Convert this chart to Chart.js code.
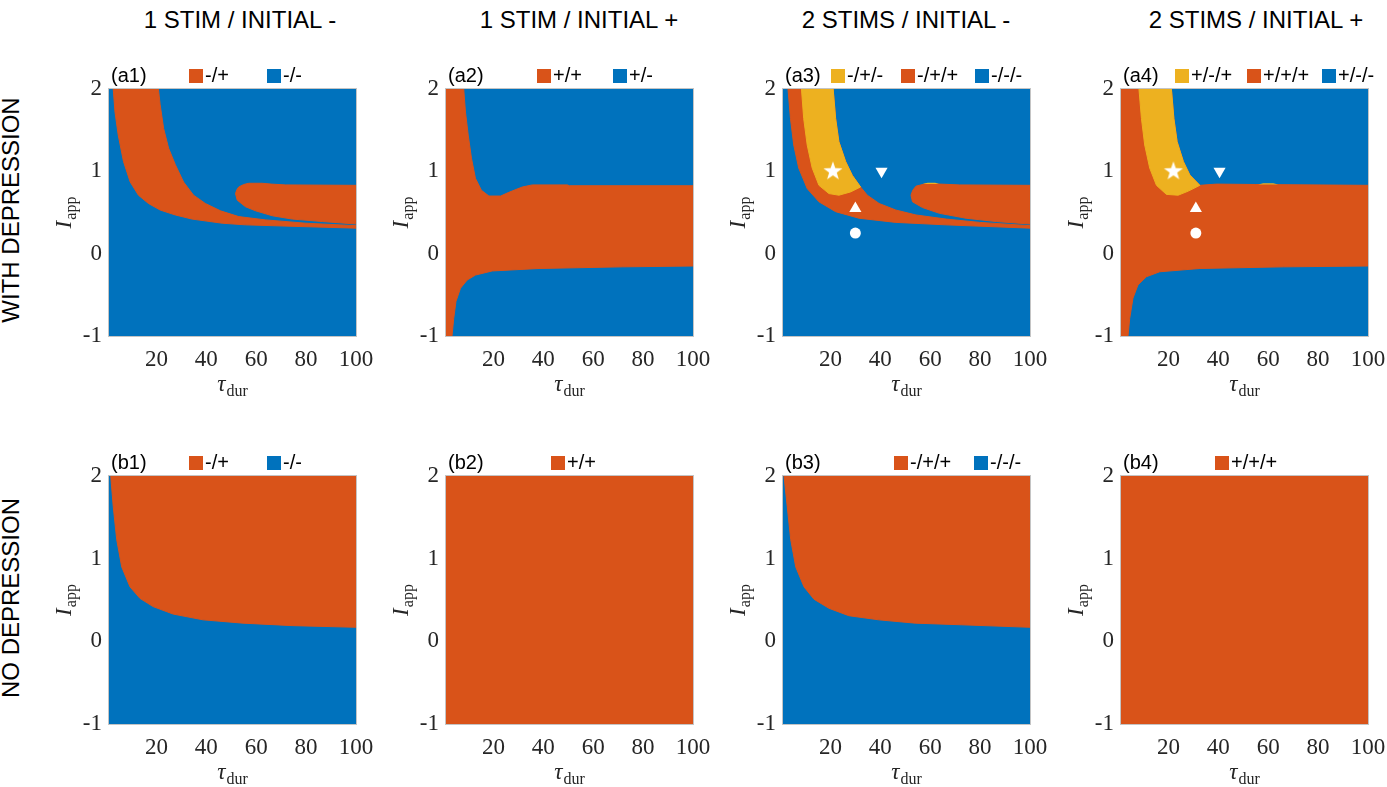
<!DOCTYPE html>
<html>
<head>
<meta charset="utf-8">
<title>Outcome maps</title>
<script src="https://cdn.jsdelivr.net/npm/chart.js@4.4.1/dist/chart.umd.min.js"></script>
<style>
  html, body { margin: 0; padding: 0; background: #ffffff; }
  body { position: relative; width: 1387px; height: 787px; overflow: hidden; font-family: "Liberation Sans", Arial, Helvetica, sans-serif; color: #000; }
  canvas.panel { position: absolute; }
  .colTitle { position: absolute; top: 20px; font-size: 24px; line-height: 24px; white-space: nowrap; transform: translate(-50%, -50%); }
  .rowTitle { position: absolute; left: 11px; font-size: 24px; line-height: 24px; white-space: nowrap; transform: translate(-50%, -50%) rotate(-90deg); }
</style>
</head>
<body>
<script>
// ---------------- data (tau_dur, I_app) ----------------
const xTicks = [20, 40, 60, 80, 100];
const yTicks = [-1, 0, 1, 2];
const tauRange = [1, 100];
const iRange = [-1, 2];

const columnTitles = ['1 STIM / INITIAL -', '1 STIM / INITIAL +', '2 STIMS / INITIAL -', '2 STIMS / INITIAL +'];
const rowTitles = ['WITH DEPRESSION', 'NO DEPRESSION'];
const panelTags = ['(a1)', '(a2)', '(a3)', '(a4)', '(b1)', '(b2)', '(b3)', '(b4)'];

const legendA1 = ['-/+', '-/-'];
const legendA2 = ['+/+', '+/-'];
const legendA3 = ['-/+/-', '-/+/+', '-/-/-'];
const legendA4 = ['+/-/+', '+/+/+', '+/-/-'];
const legendB1 = ['-/+', '-/-'];
const legendB2 = ['+/+'];
const legendB3 = ['-/+/+', '-/-/-'];
const legendB4 = ['+/+/+'];

// (a1) boundaries
const a1BandLeft = [[2.7,2],[3.4,1.72],[4.7,1.44],[6.8,1.12],[9.5,0.87],[12.8,0.71],[16.8,0.61],[21.5,0.53],[27.6,0.47],[34.3,0.42],[46.4,0.37],[55.7,0.35],[77.2,0.33],[100,0.31]];
const a1BandRight = [[20.8,2],[21.5,1.81],[22.9,1.52],[24.9,1.28],[27.6,1.08],[30.9,0.87],[34.9,0.71],[39.6,0.61],[45.7,0.52],[53,0.45],[63.8,0.41],[79.9,0.37],[100,0.34]];
const a1LobeUpper = [[51.7,0.73],[52.3,0.78],[53,0.81],[55,0.84],[57,0.855],[62.4,0.855],[66,0.845],[71.8,0.835],[100,0.83]];
const a1LobeLower = [[51.7,0.73],[52.4,0.65],[55.7,0.57],[59.8,0.52],[66.5,0.46],[74.5,0.42],[86.6,0.39],[100,0.36]];

// (a2) boundaries
const a2Upper = [[8.1,2],[8.8,1.72],[9.9,1.44],[11.2,1.16],[12.8,0.915],[15.2,0.77],[18.2,0.70],[22.9,0.70],[26.2,0.745],[31.6,0.81],[35.6,0.835],[49.7,0.835],[50.4,0.825],[100,0.825]];
const a2Lower = [[3.4,-1],[4.1,-0.785],[5.0,-0.58],[6.8,-0.42],[9.5,-0.32],[12.8,-0.26],[19.5,-0.21],[38.3,-0.18],[71.8,-0.16],[100,-0.15]];

// (a3) boundaries
const a3BandLeft = [[3,2],[4,1.64],[5.3,1.32],[7.3,1.04],[10.7,0.79],[15.4,0.63],[22.1,0.51],[31.5,0.43],[46.2,0.38],[66.3,0.35],[100,0.31]];
const a3YellowRight = [[21.1,2],[22.1,1.64],[23.4,1.36],[26.1,1.12],[28.8,0.95],[32.1,0.81]];
const a3BandTop = [[34.8,0.71],[39.5,0.61],[46.2,0.53],[54.3,0.47],[66.4,0.42],[79.8,0.38],[100,0.34]];
const a3YellowLeft = [[8.4,2],[9.3,1.64],[10.7,1.32],[12.7,1.04],[15.4,0.83],[19.4,0.73],[23.4,0.71],[28.1,0.75],[32.1,0.81]];
const a3LobeUpper = [[52.3,0.71],[53,0.77],[54.3,0.82],[58.3,0.85],[64,0.845],[71.7,0.835],[100,0.83]];
const a3LobeLower = [[52.3,0.71],[52.9,0.63],[56.9,0.56],[63.7,0.49],[74.4,0.43],[86.5,0.39],[100,0.36]];
const a3Sliver = [[57,0.846],[59,0.862],[62,0.862],[63.5,0.846]];
const a3Markers = [[21,1],[40.5,1],[30,0.55],[30,0.25]];

// (a4) boundaries
const a4YellowLeft = [[8.2,2],[9.2,1.64],[10.5,1.32],[12.5,1.04],[15.2,0.83],[19.2,0.72],[23.9,0.71],[28,0.76],[32.6,0.83]];
const a4YellowRight = [[21.2,2],[22.2,1.64],[23.5,1.36],[26,1.12],[28.6,0.955],[32.6,0.83]];
const a4OrangeTop = [[39.3,0.845],[55,0.84],[100,0.83]];
const a4Lower = [[3.8,-1],[4.5,-0.785],[5.8,-0.54],[7.8,-0.38],[11.2,-0.28],[16.5,-0.22],[32.6,-0.18],[66.2,-0.16],[100,-0.15]];
const a4Sliver = [[56,0.84],[58,0.856],[62,0.856],[64,0.84]];
const a4Markers = [[22,1],[40.5,1],[31,0.55],[31,0.25]];

// (b1), (b3) boundaries
const b1Edge = [[1.7,2],[2.7,1.63],[4.1,1.23],[6.1,0.90],[9.4,0.66],[13.4,0.52],[18.7,0.42],[26.7,0.33],[38.7,0.26],[54.7,0.22],[74.7,0.19],[100,0.17]];
const b3Edge = [[1.4,2],[2.7,1.63],[4.1,1.23],[6.1,0.90],[9.4,0.66],[13.4,0.51],[19.4,0.40],[27.4,0.31],[39.4,0.26],[54,0.22],[72.7,0.20],[100,0.17]];

// ---------------- styles ----------------
const BLUE = '#0072BD', ORANGE = '#D95319', YELLOW = '#EDB120';
const SERIF = '"Liberation Serif", "Times New Roman", serif';
const SANS = '"Liberation Sans", Arial, Helvetica, sans-serif';
const plotLeft = [109, 446, 783, 1121];
const plotTop = [89, 476];
const plotW = 247;
const plotH = [247, 248];
const PADL = 60, PADT = 40, PADR = 30, PADB = 76;

// ---------------- helpers ----------------
const pts = list => list.map(p => ({x: p[0], y: p[1]}));
const rev = list => list.slice().reverse();
const topLeft = [tauRange[0], iRange[1]];
const bottomLeft = [tauRange[0], iRange[0]];
const topLine = [[tauRange[0], iRange[1]], [tauRange[1], iRange[1]]];

function region(label, color, points, fill, order, bw) {
  const w = bw === undefined ? 1 : bw;
  return {label, data: pts(points), borderColor: w ? color : 'rgba(0,0,0,0)', backgroundColor: color, borderWidth: w,
          pointRadius: 0, pointHoverRadius: 0, fill, tension: 0, order, showLine: true};
}
function makeStar() {
  const c = document.createElement('canvas');
  const s = 22; c.width = s; c.height = s;
  const g = c.getContext('2d');
  g.fillStyle = '#ffffff';
  g.beginPath();
  for (let i = 0; i < 10; i++) {
    const r = i % 2 ? 4.0 : 10;
    const ang = -Math.PI / 2 + i * Math.PI / 5;
    g.lineTo(s / 2 + r * Math.cos(ang), s / 2 + r * Math.sin(ang));
  }
  g.closePath(); g.fill();
  return c;
}
const starImg = makeStar();
function markerSet(list) {
  return {label: 'markers', data: pts(list), showLine: false, fill: false, order: 0,
    pointStyle: [starImg, 'triangle', 'triangle', 'circle'],
    pointRotation: [0, 180, 0, 0],
    pointRadius: [10, 7, 7, 5.5],
    pointBackgroundColor: '#ffffff', pointBorderColor: '#ffffff', pointBorderWidth: 0};
}

// ---------------- panel definitions ----------------
const panels = [
  {col: 0, row: 0, tag: panelTags[0],
   datasets: [region(legendA1[1], BLUE, topLine, 'start', 9),
              region(legendA1[0], ORANGE, a1BandLeft.concat(rev(a1BandRight)), 'shape', 5),
              region(legendA1[0], ORANGE, a1LobeUpper.concat(rev(a1LobeLower)), 'shape', 5)],
   legend: [[legendA1[0], ORANGE, 80], [legendA1[1], BLUE, 158]]},
  {col: 1, row: 0, tag: panelTags[1],
   datasets: [region(legendA2[1], BLUE, topLine, 'start', 9),
              region(legendA2[0], ORANGE, [topLeft].concat(a2Upper, rev(a2Lower), [bottomLeft]), 'shape', 5)],
   legend: [[legendA2[0], ORANGE, 91], [legendA2[1], BLUE, 167]]},
  {col: 2, row: 0, tag: panelTags[2],
   datasets: [region(legendA3[2], BLUE, topLine, 'start', 9),
              region(legendA3[1], ORANGE, a3BandLeft.concat(rev(a3YellowRight.concat(a3BandTop))), 'shape', 5),
              region(legendA3[1], ORANGE, a3LobeUpper.concat(rev(a3LobeLower)), 'shape', 5),
              region(legendA3[0], YELLOW, a3YellowLeft.concat(rev(a3YellowRight)), 'shape', 3),
              region(legendA3[0], YELLOW, a3Sliver, 'shape', 3, 0),
              markerSet(a3Markers)],
   legend: [[legendA3[0], YELLOW, 48], [legendA3[1], ORANGE, 118], [legendA3[2], BLUE, 192]]},
  {col: 3, row: 0, tag: panelTags[3],
   datasets: [region(legendA4[2], BLUE, topLine, 'start', 9),
              region(legendA4[1], ORANGE, [topLeft].concat(a4YellowRight, a4OrangeTop, rev(a4Lower), [bottomLeft]), 'shape', 5),
              region(legendA4[0], YELLOW, a4YellowLeft.concat(rev(a4YellowRight)), 'shape', 3),
              region(legendA4[0], YELLOW, a4Sliver, 'shape', 3, 0),
              markerSet(a4Markers)],
   legend: [[legendA4[0], YELLOW, 54], [legendA4[1], ORANGE, 126], [legendA4[2], BLUE, 201]]},
  {col: 0, row: 1, tag: panelTags[4],
   datasets: [region(legendB1[1], BLUE, topLine, 'start', 9),
              region(legendB1[0], ORANGE, b1Edge, 'end', 5)],
   legend: [[legendB1[0], ORANGE, 80], [legendB1[1], BLUE, 158]]},
  {col: 1, row: 1, tag: panelTags[5],
   datasets: [region(legendB2[0], ORANGE, topLine, 'start', 9)],
   legend: [[legendB2[0], ORANGE, 105]]},
  {col: 2, row: 1, tag: panelTags[6],
   datasets: [region(legendB3[1], BLUE, topLine, 'start', 9),
              region(legendB3[0], ORANGE, b3Edge, 'end', 5)],
   legend: [[legendB3[0], ORANGE, 111], [legendB3[1], BLUE, 191]]},
  {col: 3, row: 1, tag: panelTags[7],
   datasets: [region(legendB4[0], ORANGE, topLine, 'start', 9)],
   legend: [[legendB4[0], ORANGE, 94]]}
];

// ---------------- decoration plugin ----------------
function drawSubLabel(ctx, main, sub, cx, baseY) {
  const mainFont = 'italic 23px ' + SERIF, subFont = '16px ' + SERIF;
  ctx.font = mainFont; const w1 = ctx.measureText(main).width;
  ctx.font = subFont; const w2 = ctx.measureText(sub).width;
  const sx = cx - (w1 + 1 + w2) / 2;
  ctx.textAlign = 'left'; ctx.textBaseline = 'alphabetic';
  ctx.font = mainFont; ctx.fillText(main, sx, baseY);
  ctx.font = subFont; ctx.fillText(sub, sx + w1 + 1, baseY + 5);
}
const panelDecor = {
  id: 'panelDecor',
  afterDraw(chart, args, opts) {
    const {ctx, chartArea: a} = chart;
    ctx.save();
    ctx.strokeStyle = '#c4c4c4'; ctx.lineWidth = 1;
    ctx.strokeRect(Math.round(a.left) - 0.5, Math.round(a.top) - 0.5, Math.round(a.right - a.left) + 1, Math.round(a.bottom - a.top) + 1);
    ctx.fillStyle = '#000000';
    ctx.font = '20px ' + SANS; ctx.textAlign = 'left'; ctx.textBaseline = 'alphabetic';
    ctx.fillText(opts.tag, a.left + 2, a.top - 7);
    opts.legend.forEach(([text, color, x]) => {
      ctx.fillStyle = color; ctx.fillRect(a.left + x, a.top - 20, 14, 14);
      ctx.fillStyle = '#000000'; ctx.font = '20px ' + SANS;
      ctx.fillText(text, a.left + x + 16, a.top - 7);
    });
    ctx.fillStyle = '#262626';
    drawSubLabel(ctx, 'τ', 'dur', (a.left + a.right) / 2, a.bottom + 55);
    ctx.save();
    ctx.translate(a.left - 38, (a.top + a.bottom) / 2);
    ctx.rotate(-Math.PI / 2);
    drawSubLabel(ctx, 'I', 'app', 0, 0);
    ctx.restore();
    ctx.restore();
  }
};

// ---------------- build page ----------------
const colCenters = [240, 579, 906, 1256];
columnTitles.forEach((t, i) => {
  const d = document.createElement('div');
  d.className = 'colTitle'; d.textContent = t; d.style.left = colCenters[i] + 'px';
  document.body.appendChild(d);
});
const rowCenters = [210, 598];
rowTitles.forEach((t, i) => {
  const d = document.createElement('div');
  d.className = 'rowTitle'; d.textContent = t; d.style.top = rowCenters[i] + 'px';
  document.body.appendChild(d);
});

panels.forEach(p => {
  const cv = document.createElement('canvas');
  cv.className = 'panel';
  const w = PADL + plotW + PADR, h = PADT + plotH[p.row] + PADB;
  cv.width = w; cv.height = h;
  cv.style.width = w + 'px'; cv.style.height = h + 'px';
  cv.style.left = (plotLeft[p.col] - PADL) + 'px';
  cv.style.top = (plotTop[p.row] - PADT) + 'px';
  document.body.appendChild(cv);
  new Chart(cv, {
    type: 'line',
    data: {datasets: p.datasets},
    plugins: [panelDecor],
    options: {
      responsive: false, animation: false, events: [],
      layout: {padding: {left: 0, right: PADR, top: PADT, bottom: 0}},
      plugins: {legend: {display: false}, tooltip: {enabled: false},
                filler: {propagate: false},
                panelDecor: {tag: p.tag, legend: p.legend}},
      scales: {
        x: {type: 'linear', min: tauRange[0], max: tauRange[1],
            afterBuildTicks: s => { s.ticks = xTicks.map(v => ({value: v})); },
            afterFit: s => { s.height = PADB; s.paddingLeft = 0; s.paddingRight = 0; },
            grid: {display: false, drawTicks: false}, border: {display: false},
            ticks: {font: {family: SERIF, size: 23}, color: '#262626', padding: 10, autoSkip: false, maxRotation: 0}},
        y: {type: 'linear', min: iRange[0], max: iRange[1],
            afterBuildTicks: s => { s.ticks = yTicks.map(v => ({value: v})); },
            afterFit: s => { s.width = PADL; s.paddingTop = 0; s.paddingBottom = 0; },
            grid: {display: false, drawTicks: false}, border: {display: false},
            ticks: {font: {family: SERIF, size: 23}, color: '#262626', padding: 7, autoSkip: false}}
      }
    }
  });
});
</script>
</body>
</html>
